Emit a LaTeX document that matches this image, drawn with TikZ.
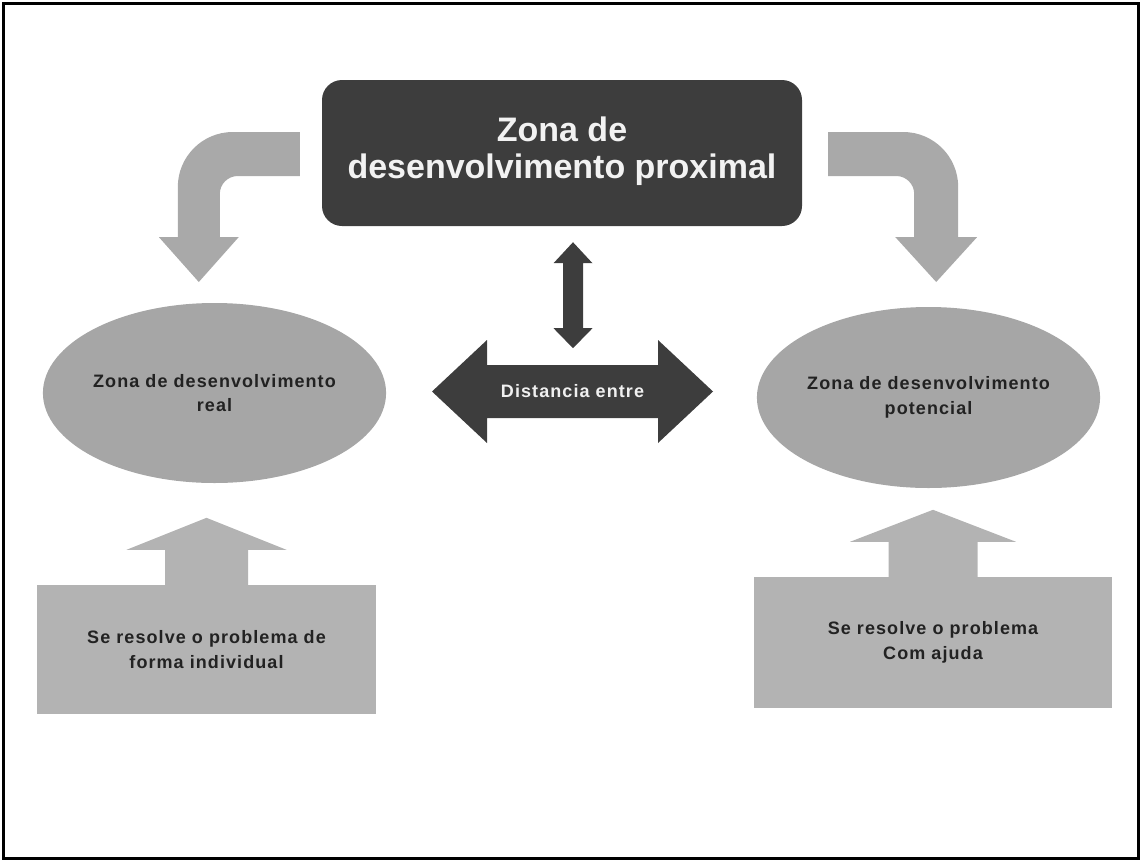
\documentclass[tikz,border=0pt]{standalone}
\usepackage{fontspec}
\setsansfont{Liberation Sans}
\newfontfamily\spacedsans[LetterSpace=6]{Liberation Sans}
\usetikzlibrary{positioning,calc,shapes.geometric}

\definecolor{zdpdark}{HTML}{3D3D3D}
\definecolor{ovalgray}{HTML}{A6A6A6}
\definecolor{boxgray}{HTML}{B3B3B3}
\definecolor{bendgray}{HTML}{A9A9A9}
\definecolor{inkgray}{HTML}{222222}

\begin{document}
\begin{tikzpicture}[
  x=1pt, y=-1pt,
  font=\sffamily\bfseries,
  zdpbox/.style={
    fill=zdpdark,
    rounded corners=20pt,
    minimum width=480pt,
    minimum height=146pt,
    inner sep=0pt
  },
  titletext/.style={text=white!95!black, align=center,
    font=\sffamily\bfseries\fontsize{34}{37}\selectfont},
  zone/.style={
    ellipse,
    fill=ovalgray,
    inner sep=0pt,
    align=center,
    text=inkgray,
    font=\spacedsans\bfseries\fontsize{18}{24.5}\selectfont
  },
  task/.style={zone, rectangle, fill=boxgray},   % same text as the zones
  bendarrow/.style={fill=bendgray},              % curved arrows from the top
  liftarrow/.style={fill=boxgray},               % up arrows on the boxes
  darkarrow/.style={fill=zdpdark}
]
\useasboundingbox (0,0) rectangle (1142,862);
\draw[line width=3pt] (3.5,3.5) rectangle (1138.5,858.5);

% --- Top: zona de desenvolvimento proximal ---
\node[zdpbox] (zdp) at (562,153) {};
\node[titletext] (zdptext) at ($(zdp.center)+(0,-2)$) {Zona de\\desenvolvimento proximal};

% --- Middle row: the two zones ---
\node[zone, minimum width=335pt, minimum height=180pt] (real) at (214.5,393)
  {Zona de desenvolvimento\\real};
\node[zone, minimum width=341pt, minimum height=181pt] (pot) at (928.5,397.5)
  {Zona de desenvolvimento\\potencial};

% --- Bottom row: how the problem is solved ---
\node[task, minimum width=339pt, minimum height=129pt] (solo) at (206.5,649.5)
  {Se resolve o problema de\\forma individual};
\node[task, minimum width=358pt, minimum height=131pt] (help) at (933,642.5)
  {Se resolve o problema\\Com ajuda};

% --- Curved arrows out of the top box ---
\fill[bendarrow] ($(zdp.west)+(-22,-21)$) -- ++(-67,0)
  arc[start angle=270, end angle=180, radius=55] -- ++(0,50) -- ++(-19,0)
  -- ++(40,45) -- ++(40,-45) -- ++(-19,0) -- ++(0,-43)
  arc[start angle=180, end angle=270, radius=18] -- ++(62,0) -- cycle;
\fill[bendarrow] ($(zdp.east)+(26,-21)$) -- ++(75,0)
  arc[start angle=270, end angle=360, radius=55] -- ++(0,50) -- ++(19,0)
  -- ++(-41,45) -- ++(-41,-45) -- ++(19,0) -- ++(0,-43)
  arc[start angle=0, end angle=-90, radius=18] -- ++(-68,0) -- cycle;

% --- Up arrows from the boxes to the zones ---
\fill[liftarrow] ($(solo.north)+(-41.5,1)$) -- ++(0,-36) -- ++(-38.5,0)
  -- ++(80,-32) -- ++(80,32) -- ++(-38.5,0) -- ++(0,36) -- cycle;
\fill[liftarrow] ($(help.north)+(-44.5,1)$) -- ++(0,-36) -- ++(-38.5,0)
  -- ++(83,-32) -- ++(83,32) -- ++(-38.5,0) -- ++(0,36) -- cycle;

% --- Distance between the zones ---
\coordinate (mid) at (572.5,391.5);
\fill[darkarrow] ($(mid)+(-140.5,0)$) -- ++(55,-51.5) -- ++(0,25) -- ++(171,0)
  -- ++(0,-25) -- ++(55,51.5) -- ++(-55,51.5) -- ++(0,-25) -- ++(-171,0)
  -- ++(0,25) -- cycle;
\node[text=white!94!black, font=\spacedsans\bfseries\fontsize{18}{20}\selectfont]
  (dist) at (mid) {Distancia entre};

% vertical double arrow between top box and distance
\fill[darkarrow] ($(zdp.south)+(11,16)$) -- ++(19.5,21) -- ++(-9.5,0) -- ++(0,65)
  -- ++(9.5,0) -- ++(-19.5,20) -- ++(-19.5,-20) -- ++(9.5,0) -- ++(0,-65)
  -- ++(-9.5,0) -- cycle;

\end{tikzpicture}
\end{document}
